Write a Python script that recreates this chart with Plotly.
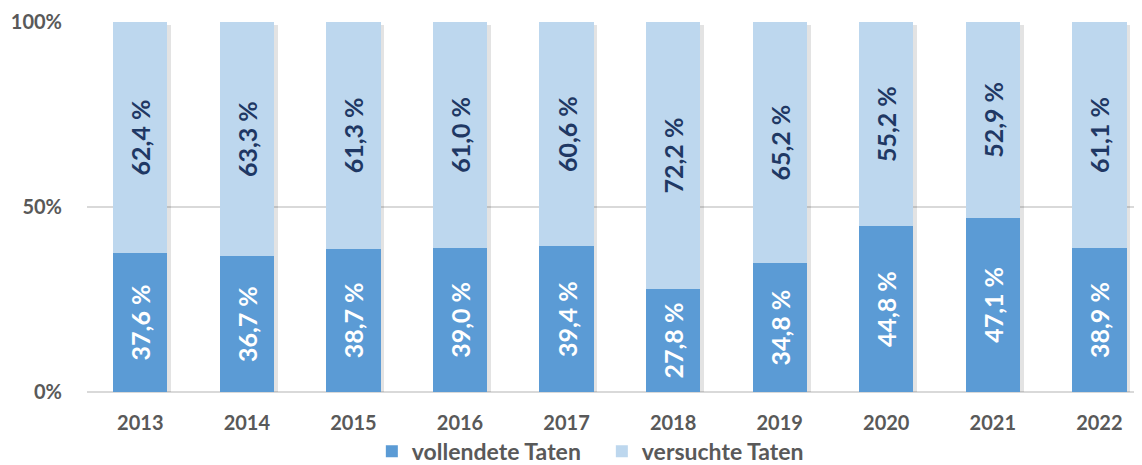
import plotly.graph_objects as go

years = ["2013", "2014", "2015", "2016", "2017", "2018", "2019", "2020", "2021", "2022"]
vollendet = [37.6, 36.7, 38.7, 39.0, 39.4, 27.8, 34.8, 44.8, 47.1, 38.9]
versucht = [62.4, 63.3, 61.3, 61.0, 60.6, 72.2, 65.2, 55.2, 52.9, 61.1]
total = [a + b for a, b in zip(vollendet, versucht)]

FONT = "Lato, 'Open Sans', sans-serif"
GREY = "#595959"


def fmt(v):
    return f"{v:.1f}".replace(".", ",") + " %"


fig = go.Figure()

# leichter Schatten hinter den Säulen (auf der Basisachse, leicht versetzt)
fig.add_trace(go.Bar(
    x=years, y=total, xaxis="x", yaxis="y", showlegend=False, hoverinfo="skip",
    marker=dict(color="rgba(0,0,0,0.11)", line=dict(width=0)),
))

fig.add_trace(go.Bar(
    x=years, y=vollendet, name="vollendete Taten", xaxis="x2", yaxis="y2",
    marker=dict(color="#5b9bd5", line=dict(width=0)),
    text=[fmt(v) for v in vollendet],
    textposition="inside", insidetextanchor="middle", textangle=-90,
    textfont=dict(color="white", size=25, family=FONT, weight="bold"),
))
fig.add_trace(go.Bar(
    x=years, y=versucht, name="versuchte Taten", xaxis="x2", yaxis="y2",
    marker=dict(color="#bdd7ee", line=dict(width=0)),
    text=[fmt(v) for v in versucht],
    textposition="inside", insidetextanchor="middle", textangle=-90,
    textfont=dict(color="#1f3864", size=25, family=FONT, weight="bold"),
))

d = 0.035
e = 0.9
fig.update_layout(
    barmode="stack",
    bargap=0.49,
    width=1134, height=457,
    margin=dict(l=79, r=0, t=14, b=73),
    plot_bgcolor="white", paper_bgcolor="white",
    font=dict(family=FONT, color=GREY, size=20, weight="bold"),
    uniformtext=dict(mode=False),
    showlegend=True,
    legend=dict(orientation="h", x=0.488, xanchor="center",
                yref="container", y=0.03, yanchor="middle",
                font=dict(size=23, color=GREY, weight="bold"),
                traceorder="normal", itemwidth=30, entrywidth=185, tracegroupgap=0),
    xaxis=dict(range=[-0.5 - d, 9.4 - d], showgrid=False, ticks="", showline=False,
               showticklabels=False, automargin=False, zeroline=False),
    yaxis=dict(range=[e, 100 + e], showgrid=False, zeroline=False, showticklabels=False,
               automargin=False),
    xaxis2=dict(range=[-0.5, 9.4], overlaying="x", side="bottom", showgrid=False,
                ticks="", showline=False, automargin=False, ticklabelstandoff=17,
                tickfont=dict(size=20, weight="bold", color=GREY)),
    yaxis2=dict(range=[0, 100], overlaying="y", side="left",
                tickvals=[0, 50, 100], ticktext=["0%", "50%", "100%"],
                gridcolor="#d9d9d9", gridwidth=1.5, zeroline=True, zerolinecolor="#d9d9d9",
                zerolinewidth=1.5, ticks="", ticklabelstandoff=24, automargin=False,
                tickfont=dict(size=20, weight="bold", color=GREY)),
)

fig.write_html("out.html")
